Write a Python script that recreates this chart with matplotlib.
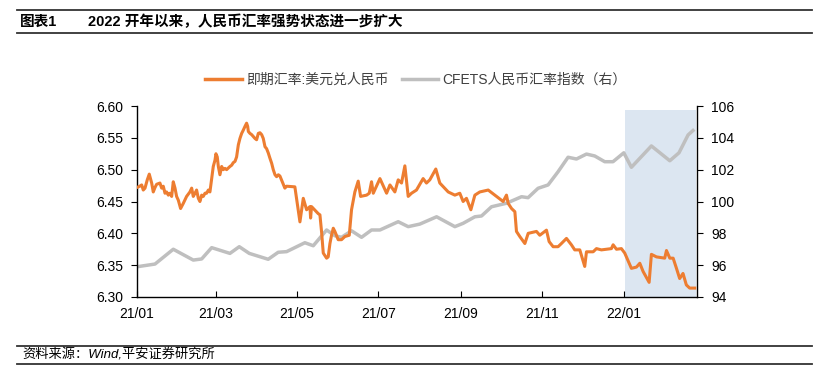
import matplotlib
matplotlib.use("Agg")
import matplotlib.pyplot as plt
import matplotlib.dates as mdates
from matplotlib.lines import Line2D
import pandas as pd

plt.rcParams['font.family'] = ['Liberation Sans', 'Noto Sans CJK SC', 'DejaVu Sans']

base_date = "2021-01-01"
spot_days = [0, 2, 3.5, 4.7, 6, 7.7, 9.2, 11, 12.2, 13.5, 14.7, 17.2, 18.5, 19.7, 21, 22.2, 23.5, 24.7, 26,
             27.2, 28.5, 29.7, 31, 32.7, 34.7, 37.2, 39.7, 41, 42.2, 43.5, 44.7, 46, 47.2, 48.5, 49.7, 51, 52.2,
             53.5, 54.7, 56, 57.2, 58.5, 59.2, 60.2, 61, 62.2, 63.5, 64.7, 66, 67.2, 69.7, 71, 72.2, 73.5, 74.7,
             76, 77.2, 78.5, 79.7, 81, 82.2, 83, 83.5, 84.7, 86, 87.2, 88.5, 89.7, 91, 92.2, 93.5, 94.7, 96, 97.2,
             98.5, 99.7, 101, 102.2, 103.5, 104.7, 106, 107.2, 110.9, 112.2, 118.4, 120.9, 122.2, 124.7, 127.2,
             129.7, 130.2, 130.9, 135.9, 137.2, 138.4, 139.7, 142.2, 143.4, 144.7, 145.9, 147.2, 148.4, 150.9,
             153.4, 155.9, 159.2, 160.9, 163.4, 165.9, 167.7, 172.2, 174.2, 175.9, 177.2, 182.2, 187.2, 189.7,
             193.4, 195.9, 198.4, 200.9, 203.4, 205.9, 209.6, 214.6, 217.1, 219.6, 224.1, 227.1, 233.4, 238.4,
             242.1, 244.6, 247.1, 250.4, 253.4, 257.1, 263.4, 269.6, 274.6, 277.1, 278.4, 280.9, 283.4, 284.6,
             287.1, 290.9, 293.4, 299.6, 302.1, 307.1, 309.1, 312.1, 315.8, 318.3, 322.1, 325.8, 328.3, 332.1,
             335.8, 337.1, 342.1, 344.6, 348.3, 352.1, 355.8, 357.1, 359.6, 363.3, 365.8, 370.8, 374.6, 377.1,
             379.6, 384.1, 385.8, 389.6, 395.8, 397.1, 399.6, 402.1, 404.6, 407.0, 409.5, 412.0, 414.5, 418.3]
spot_rate = [6.472, 6.474, 6.476, 6.468, 6.471, 6.484, 6.493, 6.479, 6.465, 6.472, 6.477, 6.479, 6.471, 6.474,
             6.463, 6.465, 6.460, 6.463, 6.458, 6.481, 6.471, 6.458, 6.452, 6.439, 6.447, 6.458, 6.465, 6.471,
             6.458, 6.463, 6.468, 6.455, 6.450, 6.460, 6.458, 6.463, 6.463, 6.468, 6.465, 6.486, 6.505, 6.515,
             6.525, 6.520, 6.505, 6.492, 6.505, 6.500, 6.502, 6.500, 6.505, 6.507, 6.511, 6.513, 6.520, 6.539,
             6.549, 6.557, 6.562, 6.568, 6.573, 6.568, 6.560, 6.557, 6.555, 6.552, 6.549, 6.547, 6.557, 6.558,
             6.555, 6.549, 6.536, 6.533, 6.526, 6.518, 6.510, 6.500, 6.492, 6.489, 6.492, 6.490, 6.471, 6.474,
             6.473, 6.437, 6.418, 6.455, 6.437, 6.442, 6.424, 6.442, 6.431, 6.429, 6.403, 6.369, 6.361, 6.363,
             6.384, 6.397, 6.408, 6.403, 6.390, 6.390, 6.395, 6.397, 6.437, 6.465, 6.482, 6.458, 6.460, 6.463,
             6.481, 6.463, 6.486, 6.463, 6.476, 6.465, 6.484, 6.479, 6.506, 6.458, 6.463, 6.468, 6.486, 6.479,
             6.484, 6.501, 6.479, 6.465, 6.460, 6.463, 6.450, 6.455, 6.437, 6.460, 6.465, 6.468, 6.458, 6.450,
             6.460, 6.447, 6.439, 6.434, 6.403, 6.395, 6.384, 6.400, 6.403, 6.397, 6.405, 6.387, 6.379, 6.379,
             6.384, 6.392, 6.382, 6.374, 6.374, 6.348, 6.371, 6.371, 6.376, 6.374, 6.375, 6.376, 6.382, 6.375,
             6.376, 6.369, 6.345, 6.347, 6.353, 6.340, 6.323, 6.367, 6.363, 6.361, 6.373, 6.361, 6.361, 6.345,
             6.329, 6.337, 6.319, 6.314, 6.314]

cfets_days = [0, 13.5, 27.2, 42.2, 48.5, 56.0, 69.7, 76.7, 84.2, 98.4, 105.9, 112.2, 125.9, 132.2, 142.2, 148.4,
              153.4, 160.9, 168.4, 175.9, 182.2, 195.9, 203.4, 212.1, 224.7, 238.4, 244.6, 253.4, 258.4, 265.9,
              277.1, 288.4, 293.3, 300.8, 308.3, 315.8, 323.3, 329.6, 337.1, 343.3, 350.8, 357.0, 365.1, 370.8,
              385.8, 399.6, 406.5, 413.3, 417.0]
cfets_index = [95.90, 96.07, 97.00, 96.32, 96.39, 97.10, 96.74, 97.16, 96.74, 96.37, 96.81, 96.85, 97.41, 97.22,
               98.21, 97.85, 97.75, 98.16, 97.75, 98.21, 98.21, 98.73, 98.42, 98.58, 99.04, 98.42, 98.63, 99.04,
               99.09, 99.67, 99.89, 100.30, 100.24, 100.83, 101.04, 101.87, 102.78, 102.67, 102.98, 102.86, 102.50,
               102.50, 103.06, 102.15, 103.49, 102.56, 103.06, 104.18, 104.46]

x_ticks = ["2021-01-01", "2021-03-01", "2021-05-01", "2021-07-01", "2021-09-01", "2021-11-01", "2022-01-01"]
x_end = "2022-02-25"
shade_start = "2022-01-02"
shade_end = "2022-02-24"

spot_label = "即期汇率:美元兑人民币"
cfets_label = "CFETS人民币汇率指数（右）"
title_tag = "图表1"
title_text = "2022 开年以来，人民币汇率强势状态进一步扩大"
source_text = "资料来源：Wind,平安证券研究所"

base = pd.Timestamp(base_date)
spot_dates = base + pd.to_timedelta(spot_days, unit="D")
cfets_dates = base + pd.to_timedelta(cfets_days, unit="D")

fig = plt.figure(figsize=(8.32, 3.88), dpi=100)
W, H = 832, 388
ax = fig.add_axes([137 / W, 1 - 297 / H, (697 - 137) / W, (297 - 106) / H])
ax2 = ax.twinx()

orange = "#ED7D31"
gray = "#BFBFBF"

ax2.axvspan(pd.Timestamp(shade_start), pd.Timestamp(shade_end), ymin=0, ymax=0.979,
            color="#DCE6F1", zorder=0, lw=0)
ax2.plot(cfets_dates, cfets_index, color=gray, lw=2.5, solid_joinstyle="round", zorder=2)
ax.plot(spot_dates, spot_rate, color=orange, lw=2.2, solid_joinstyle="round", zorder=3)
ax.set_zorder(ax2.get_zorder() + 1)
ax.patch.set_visible(False)

ax.set_ylim(6.30, 6.60)
ax.set_yticks([6.30, 6.35, 6.40, 6.45, 6.50, 6.55, 6.60])
ax.set_yticklabels([f"{v:.2f}" for v in [6.30, 6.35, 6.40, 6.45, 6.50, 6.55, 6.60]])
ax2.set_ylim(94, 106)
ax2.set_yticks(range(94, 107, 2))

ax.set_xlim(base, pd.Timestamp(x_end))
ax.set_xticks(pd.to_datetime(x_ticks))
ax.xaxis.set_major_formatter(mdates.DateFormatter("%y/%m"))

for a in (ax, ax2):
    a.spines["top"].set_visible(False)
    for s in ("left", "right", "bottom"):
        a.spines[s].set_color("#000000")
        a.spines[s].set_linewidth(1.0)
ax.spines["right"].set_visible(False)
ax2.spines["left"].set_visible(False)
ax2.spines["bottom"].set_visible(False)

ax.tick_params(axis="y", direction="out", length=4, labelsize=10, pad=6, colors="#000000")
ax.tick_params(axis="x", direction="in", length=4, labelsize=10, pad=7, colors="#000000")
ax2.tick_params(axis="y", direction="out", length=4, labelsize=10, pad=6, colors="#000000")

# legend
handles = [Line2D([0], [0], color=orange, lw=2.5), Line2D([0], [0], color=gray, lw=2.5)]
fig.legend(handles, [spot_label, cfets_label], loc="center", bbox_to_anchor=(0.5, 1 - 80 / H),
           ncol=2, frameon=False, fontsize=10, handlelength=2.6, handletextpad=0.3, columnspacing=1.0,
           labelcolor="#404040")

# header / footer
def hline(y):
    fig.add_artist(Line2D([17 / W, 812 / W], [1 - y / H, 1 - y / H], color="#333333", lw=1.3))

hline(10)
hline(33)
fig.text(20 / W, 1 - 22 / H, title_tag, fontsize=10.5, fontweight="bold", va="center", ha="left")
fig.text(88 / W, 1 - 22 / H, title_text, fontsize=10.5, fontweight="bold", va="center", ha="left")
hline(346)
hline(364)
fig.text(22 / W, 1 - 355 / H, source_text, fontsize=9.5, style="italic", va="center", ha="left")

fig.savefig("out.png", dpi=100)
